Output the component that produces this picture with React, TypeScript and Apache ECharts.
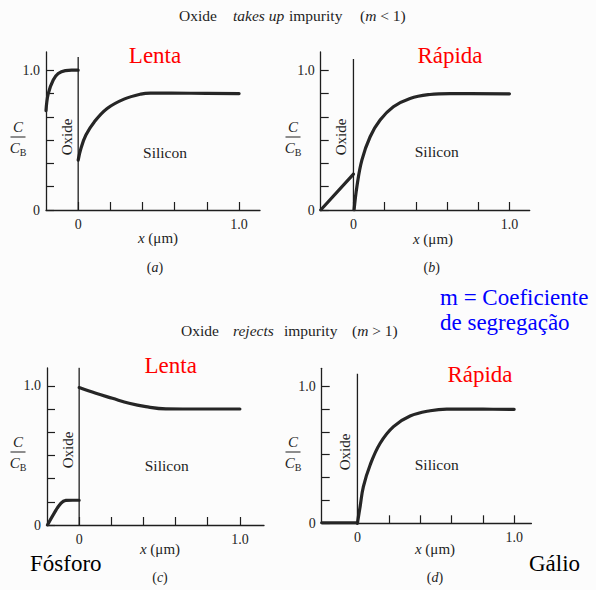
import React, { useEffect, useRef } from "react";
import * as echarts from "echarts";

// Axis ticks and labels (C/C_B in sixths, x in micrometres)
const yTickValues = [0, 1 / 6, 2 / 6, 3 / 6, 4 / 6, 5 / 6, 1];
const yLabelValues = [0, 1];
const xTickValues = [0, 0.2, 0.4, 0.6, 0.8, 1.0];
const xLabelValues = [0, 1];

// (a) oxide takes up impurity, slow diffusion
const oxideA = [[-0.2, 0.71], [-0.186, 0.833], [-0.155, 0.93], [-0.124, 0.976], [-0.08, 0.997], [-0.04, 1.0], [0, 1.0]];
const siliconA = [[0, 0.357], [0.017, 0.44], [0.048, 0.536], [0.1, 0.63], [0.18, 0.726], [0.285, 0.793], [0.389, 0.829], [0.45, 0.836], [0.7, 0.835], [1.0, 0.833]];

// (b) oxide takes up impurity, fast diffusion
const oxideB = [[-0.21, 0], [0, 0.257]];
const siliconB = [[0.004, 0], [0.022, 0.167], [0.054, 0.357], [0.107, 0.524], [0.171, 0.643], [0.256, 0.738], [0.363, 0.798], [0.49, 0.826], [0.62, 0.833], [1.0, 0.831]];

// (c) oxide rejects impurity, slow diffusion
const oxideC = [[-0.197, 0], [-0.156, 0.084], [-0.114, 0.156], [-0.083, 0.177], [-0.04, 0.178], [0, 0.178]];
const siliconC = [[0, 0.988], [0.104, 0.947], [0.207, 0.911], [0.311, 0.875], [0.415, 0.851], [0.54, 0.835], [0.75, 0.834], [1.0, 0.834]];

// (d) oxide rejects impurity, fast diffusion
const oxideD = [[-0.228, 0.004], [0, 0.004]];
const siliconD = [[0, 0], [0.017, 0.121], [0.038, 0.267], [0.081, 0.425], [0.145, 0.583], [0.23, 0.704], [0.336, 0.781], [0.464, 0.82], [0.57, 0.832], [0.8, 0.831], [1.0, 0.83]];

// Height of the oxide/silicon interface line in each panel
const interfaceTops = [1.095, 1.08, 1.13, 1.09];

const SERIF = "'Liberation Serif', 'Times New Roman', serif";
const INK = "#1e1e1e";

const panels = [
  { left: 46, top: 52, width: 214, height: 158, xMin: -0.2, xMax: 1.13, yMax: 1.13, oxide: oxideA, silicon: siliconA },
  { left: 320.7, top: 52, width: 209, height: 158, xMin: -0.21, xMax: 1.13, yMax: 1.13, oxide: oxideB, silicon: siliconB },
  { left: 47, top: 368, width: 217, height: 157, xMin: -0.2, xMax: 1.15, yMax: 1.129, oxide: oxideC, silicon: siliconC },
  { left: 321.7, top: 368.3, width: 209.7, height: 155, xMin: -0.228, xMax: 1.11, yMax: 1.129, oxide: oxideD, silicon: siliconD },
];

// Text placed around each panel
const panelText = [
  { speed: "Lenta", speedAt: [155, 55], oxideAt: [66.7, 137], siliconAt: [165, 152], xNameAt: [158, 238], tagAt: [155, 267], tag: "a", ratioAt: [18, 127] },
  { speed: "Rápida", speedAt: [450, 55], oxideAt: [340.7, 137], siliconAt: [436.7, 151], xNameAt: [433, 239], tagAt: [431.7, 267], tag: "b", ratioAt: [293, 127] },
  { speed: "Lenta", speedAt: [170.7, 365], oxideAt: [68.3, 450], siliconAt: [166.7, 465], xNameAt: [160, 549], tagAt: [160, 577], tag: "c", ratioAt: [18, 442] },
  { speed: "Rápida", speedAt: [480, 374], oxideAt: [345, 452], siliconAt: [436.7, 464], xNameAt: [435, 549], tagAt: [435, 577], tag: "d", ratioAt: [293, 442] },
];

const font = (size: number, italic = false) => `${italic ? "italic " : ""}${size}px ${SERIF}`;

function txt(x: number, y: number, text: string, size = 15, extra: any = {}, el: any = {}) {
  return {
    type: "text",
    x,
    y,
    silent: true,
    ...el,
    style: {
      text,
      fill: INK,
      font: font(size, !!extra.italic),
      fontFamily: SERIF,
      fontSize: size,
      fontStyle: extra.italic ? "italic" : "normal",
      align: "center",
      verticalAlign: "middle",
      ...extra,
    },
  };
}

const rich = (size: number) => ({
  n: { fontFamily: SERIF, fontSize: size, fill: INK },
  i: { fontFamily: SERIF, fontSize: size, fontStyle: "italic", fill: INK },
  s: { fontFamily: SERIF, fontSize: 10, fill: INK, padding: [8, 0, 0, 0] },
});

function buildOption() {
  const grid: any[] = [];
  const xAxis: any[] = [];
  const yAxis: any[] = [];
  const series: any[] = [];
  const graphic: any[] = [];

  const labelStyle = { color: INK, fontFamily: SERIF, fontSize: 14 };

  panels.forEach((p, k) => {
    grid.push({ left: p.left, top: p.top, width: p.width, height: p.height, containLabel: false, outerBoundsMode: "none" });
    xAxis.push({
      type: "value",
      gridIndex: k,
      min: p.xMin,
      max: p.xMax,
      splitLine: { show: false },
      axisLine: { onZero: false, lineStyle: { color: INK, width: 1.3 } },
      axisTick: { inside: true, length: 8, customValues: xTickValues, lineStyle: { color: INK, width: 1.2 } },
      axisLabel: {
        customValues: xLabelValues,
        formatter: (v: number) => (v === 0 ? "0" : "1.0"),
        ...labelStyle,
        margin: 7,
      },
    });
    yAxis.push({
      type: "value",
      gridIndex: k,
      min: 0,
      max: p.yMax,
      splitLine: { show: false },
      axisLine: { onZero: false, lineStyle: { color: INK, width: 1.3 } },
      axisTick: { inside: true, length: 8, customValues: yTickValues, lineStyle: { color: INK, width: 1.2 } },
      axisLabel: {
        customValues: yLabelValues,
        formatter: (v: number) => (v === 0 ? "0" : "1.0"),
        ...labelStyle,
        margin: 6,
      },
    });
    const curve = {
      type: "line",
      xAxisIndex: k,
      yAxisIndex: k,
      showSymbol: false,
      smooth: 0.4,
      lineStyle: { color: "#262626", width: 3.2, cap: "round", join: "round" },
      silent: true,
    };
    series.push({ ...curve, data: p.oxide, smooth: p.oxide.length > 2 ? 0.4 : false });
    series.push({ ...curve, data: p.silicon });
    series.push({
      type: "line",
      xAxisIndex: k,
      yAxisIndex: k,
      showSymbol: false,
      silent: true,
      lineStyle: { color: INK, width: 1.3 },
      data: [[0, 0], [0, interfaceTops[k]]],
    });

    const t = panelText[k];
    graphic.push(txt(t.speedAt[0], t.speedAt[1], t.speed, 23, { fill: "#ff0000" }));
    graphic.push(txt(t.oxideAt[0], t.oxideAt[1], "Oxide", 15, {}, { rotation: Math.PI / 2 }));
    graphic.push(txt(t.siliconAt[0], t.siliconAt[1], "Silicon", 15.5));
    graphic.push(txt(t.xNameAt[0], t.xNameAt[1], "{i|x} {n|(μm)}", 15, { rich: rich(15) }));
    graphic.push(txt(t.tagAt[0], t.tagAt[1], `{n|(}{i|${t.tag}}{n|)}`, 14, { rich: rich(14) }));
    // C / C_B fraction
    const [cx, cy] = t.ratioAt;
    graphic.push(txt(cx, cy, "C", 15, { italic: true }));
    graphic.push({
      type: "line",
      silent: true,
      shape: { x1: cx - 7.5, y1: cy + 10, x2: cx + 7.5, y2: cy + 10 },
      style: { stroke: INK, lineWidth: 1 },
    });
    graphic.push(txt(cx, cy + 21, "{i|C}{s|B}", 15, { rich: rich(15) }));
  });

  // Section headings, word by word
  const heading = (y: number, parts: [number, string][]) =>
    parts.forEach(([x, s]) => graphic.push(txt(x, y, s, 15.5, { align: "left", rich: rich(15.5) })));
  heading(15, [[179, "{n|Oxide}"], [233, "{i|takes up}"], [289, "{n|impurity}"], [360, "{n|(}{i|m}{n| < 1)}"]]);
  heading(330, [[181, "{n|Oxide}"], [233, "{i|rejects}"], [284, "{n|impurity}"], [352, "{n|(}{i|m}{n| > 1)}"]]);

  // Note on the segregation coefficient
  graphic.push(txt(440, 297, "m = Coeficiente", 23, { align: "left", fill: "#0000ff" }));
  graphic.push(txt(440, 322, "de segregação", 23, { align: "left", fill: "#0000ff" }));

  // Dopant names
  graphic.push(txt(30, 563, "Fósforo", 23, { align: "left", fill: "#000" }));
  graphic.push(txt(529, 563, "Gálio", 23, { align: "left", fill: "#000" }));

  return {
    animation: false,
    backgroundColor: "#fcfcfc",
    grid,
    xAxis,
    yAxis,
    series,
    graphic,
  };
}

export default function App() {
  const ref = useRef<HTMLDivElement>(null);
  useEffect(() => {
    if (!ref.current) return;
    const chart = echarts.init(ref.current, undefined, { renderer: "svg" });
    chart.setOption(buildOption() as any);
    return () => chart.dispose();
  }, []);
  return <div ref={ref} style={{ position: "fixed", left: 0, top: 0, width: 596, height: 590 }} />;
}
